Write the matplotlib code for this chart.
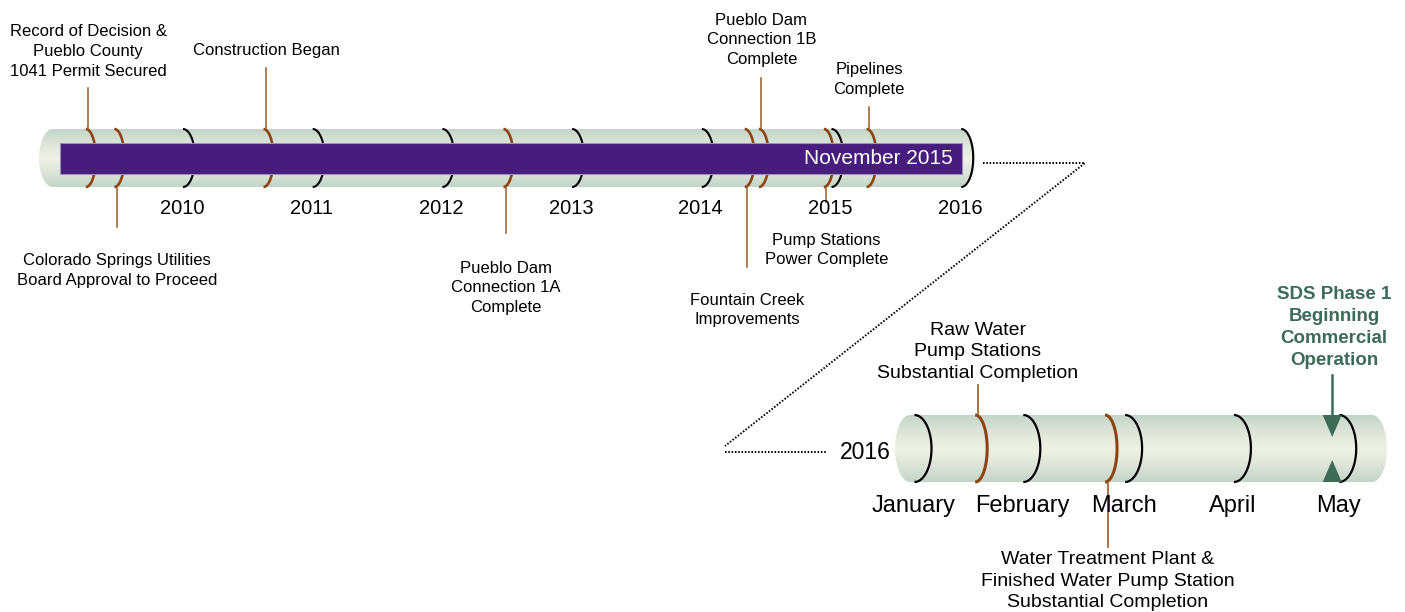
import numpy as np
import matplotlib
matplotlib.use('Agg')
import matplotlib.pyplot as plt
from matplotlib.patches import Polygon
from matplotlib.colors import LinearSegmentedColormap

plt.rcParams['font.family'] = ['Liberation Sans', 'DejaVu Sans']

# --- top timeline data (decimal years) ---
years = [2010, 2011, 2012, 2013, 2014, 2015, 2016]
events = [
    'Record of Decision &\nPueblo County\n1041 Permit Secured',
    'Colorado Springs Utilities\nBoard Approval to Proceed',
    'Construction Began',
    'Pueblo Dam\nConnection 1A\nComplete',
    'Fountain Creek\nImprovements',
    'Pueblo Dam\nConnection 1B\nComplete',
    'Pump Stations\nPower Complete',
    'Pipelines\nComplete',
]
event_dates = [2009.27, 2009.49, 2010.64, 2012.49, 2014.35, 2014.46, 2014.96, 2015.29]
progress_start = 2009.05
progress_end = 2016.01
progress_label = 'November 2015'

# --- bottom timeline data (day of year 2016, 0 = Jan 1) ---
months = ['January', 'February', 'March', 'April', 'May']
month_days = [0, 31, 60, 91, 121]
events_2016 = [
    'Raw Water\nPump Stations\nSubstantial Completion',
    'Water Treatment Plant &\nFinished Water Pump Station\nSubstantial Completion',
]
event_days_2016 = [18, 55]
milestone = 'SDS Phase 1\nBeginning\nCommercial\nOperation'
milestone_day = 119

# --- layout (pixels) ---
W, H = 1405, 612
top_px0, top_scale = 183.0, 129.7      # px of 2010, px per year
bot_px0, bot_scale = 914.5, 3.51       # px of Jan 1, px per day
top_yc, top_hh = 158, 29
bot_yc, bot_hh = 448.5, 33.5
# (direction, line end y, label y) per event
top_layout = [('up', 88, 51.5), ('down', 227, 270.5), ('up', 68, 50),
              ('down', 233, 288), ('down', 267, 310), ('up', 78, 40),
              ('down', 202, 250), ('up', 107, 79.5)]
bot_layout = [('up', 385, 352), ('down', 547, 581)]

BROWN = '#8b4513'
LINE_BROWN = '#9a5a25'
PURPLE = '#461d7c'
GREEN = '#3d6b58'
tube_cmap = LinearSegmentedColormap.from_list('tube', ['#eef0e4', '#c3d4c8'])

fig = plt.figure(figsize=(W / 100, H / 100), dpi=100)
ax_px = fig.add_axes([0, 0, 1, 1])
ax_top = fig.add_axes([0, 0, 1, 1])
ax_bot = fig.add_axes([0, 0, 1, 1])
for ax in (ax_px, ax_top, ax_bot):
    ax.set_axis_off()
    ax.patch.set_alpha(0)


def draw_tube(ax, x0, x1, yc, hh, cap_w, zorder=1):
    t = np.linspace(-np.pi / 2, np.pi / 2, 60)
    right = np.column_stack([x1 + cap_w * np.cos(t), yc + hh * np.sin(t)])
    t2 = np.linspace(np.pi / 2, 3 * np.pi / 2, 60)
    left = np.column_stack([x0 + cap_w * np.cos(t2), yc + hh * np.sin(t2)])
    poly = Polygon(np.vstack([right, left]), closed=True, facecolor='none',
                   edgecolor='none', transform=ax.transData)
    ax.add_patch(poly)
    v = np.abs(np.linspace(-1, 1, 200))[:, None] ** 1.3
    im = ax.imshow(v, extent=[x0 - cap_w, x1 + cap_w, yc + hh, yc - hh],
                   aspect='auto', cmap=tube_cmap, vmin=0, vmax=1, zorder=zorder)
    im.set_clip_path(poly)


def draw_arc(ax, x, yc, hh, bulge, color, lw, zorder=2):
    t = np.linspace(-np.pi / 2, np.pi / 2, 60)
    ax.plot(x + bulge * np.cos(t), yc + hh * np.sin(t), color=color, lw=lw,
            solid_capstyle='butt', zorder=zorder)


# ---------- top timeline ----------
ty = lambda px: 2010 + (px - top_px0) / top_scale
ax_top.set_xlim(ty(0), ty(W))
ax_top.set_ylim(H, 0)
tpx = 1 / top_scale  # one pixel in years

draw_tube(ax_top, ty(53), years[-1], top_yc, top_hh, 14 * tpx)
for y in years:
    draw_arc(ax_top, y, top_yc, top_hh, 12 * tpx, 'black', 1.5)
    ax_top.text(y - 1 * tpx, 208, str(y), ha='center', va='center', fontsize=14.5)
for d, name, (dirn, yend, ylab) in zip(event_dates, events, top_layout):
    draw_arc(ax_top, d - 2.5 * tpx, top_yc, top_hh, 10 * tpx, BROWN, 1.9)
    y0 = top_yc - top_hh if dirn == 'up' else top_yc + top_hh
    ax_top.plot([d, d], [y0, yend], color=LINE_BROWN, lw=1.1, zorder=2)
    ax_top.text(d, ylab, name, ha='center', va='center', fontsize=12,
                linespacing=1.38)

ax_top.barh(top_yc, progress_end - progress_start, left=progress_start,
            height=31, color=PURPLE, edgecolor='#9b92b5', lw=0.8, zorder=3)
ax_top.text(progress_end - 10 * tpx, top_yc, progress_label, color='white',
            ha='right', va='center', fontsize=15, zorder=4)
ax_top.set_xlim(ty(0), ty(W))
ax_top.set_ylim(H, 0)

# ---------- bottom timeline ----------
bd = lambda px: (px - bot_px0) / bot_scale
ax_bot.set_xlim(bd(0), bd(W))
ax_bot.set_ylim(H, 0)
bpx = 1 / bot_scale  # one pixel in days

draw_tube(ax_bot, bd(910), bd(1372), bot_yc, bot_hh, 15 * bpx)
for d, m in zip(month_days, months):
    draw_arc(ax_bot, d, bot_yc, bot_hh, 17 * bpx, 'black', 1.6)
    ax_bot.text(d - 1 * bpx, 506, m, ha='center', va='center', fontsize=17)
for d, name, (dirn, yend, ylab) in zip(event_days_2016, events_2016, bot_layout):
    draw_arc(ax_bot, d - 2.5 * bpx, bot_yc, bot_hh, 12 * bpx, BROWN, 2.2)
    y0 = bot_yc - bot_hh if dirn == 'up' else bot_yc + bot_hh
    ax_bot.plot([d, d], [y0, yend], color=LINE_BROWN, lw=1.2, zorder=2)
    ax_bot.text(d, ylab, name, ha='center', va='center', fontsize=14,
                linespacing=1.36)
ax_bot.text(bd(891), bot_yc + 4, '2016', ha='right', va='center', fontsize=16.5)

# milestone arrow heads
tw = 9.5 * bpx
ax_bot.plot([milestone_day, milestone_day], [375, bot_yc - bot_hh + 4],
            color=GREEN, lw=1.8, zorder=4)
ax_bot.fill([milestone_day - tw, milestone_day + tw, milestone_day],
            [bot_yc - bot_hh, bot_yc - bot_hh, bot_yc - bot_hh + 22],
            color=GREEN, zorder=4, lw=0)
ax_bot.fill([milestone_day - tw, milestone_day + tw, milestone_day],
            [bot_yc + bot_hh, bot_yc + bot_hh, bot_yc + bot_hh - 22],
            color=GREEN, zorder=4, lw=0)
ax_bot.text(milestone_day + 0.5, 327.5, milestone, ha='center', va='center',
            fontsize=13.5, fontweight='bold', color=GREEN, linespacing=1.38)
ax_bot.set_xlim(bd(0), bd(W))
ax_bot.set_ylim(H, 0)

# ---------- zoom connector ----------
ax_px.set_xlim(0, W)
ax_px.set_ylim(H, 0)
ax_px.plot([983, 1085, 725], [163, 163, 446], color='black', lw=1.4,
           linestyle=(0, (0.8, 0.9)))
ax_px.plot([725, 827], [452, 452], color='black', lw=1.4,
           linestyle=(0, (0.8, 0.9)))

fig.savefig('out.png', dpi=100)
